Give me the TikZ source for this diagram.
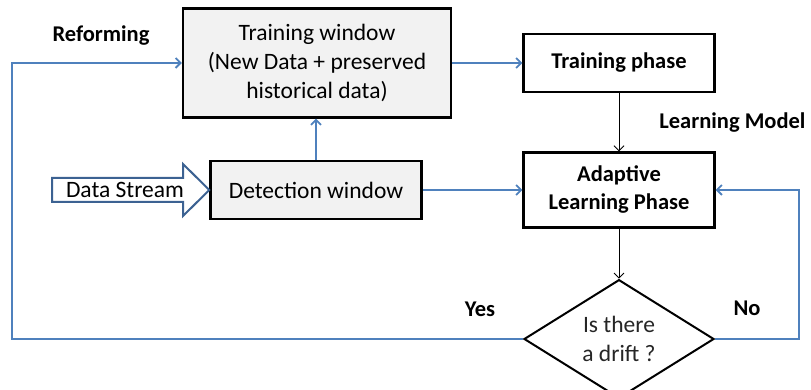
\documentclass[tikz,border=0pt]{standalone}
\usepackage{fontspec}
\setmainfont{Carlito}
\usetikzlibrary{shapes.geometric,arrows.meta}
\definecolor{flowblue}{RGB}{79,129,189}
\definecolor{streamblue}{RGB}{60,98,146}
\definecolor{boxgray}{RGB}{242,242,242}
\newcommand{\boxfont}{\fontsize{23.5}{29}\selectfont}
\newcommand{\tagfont}{\fontsize{22.5}{28}\selectfont\bfseries}

\begin{document}
\begin{tikzpicture}[
          x=1pt, y=1pt,
          window/.style={draw, line width=2.4pt, fill=boxgray, align=center, font=\boxfont},
          phase/.style={draw, line width=2.4pt, fill=white, align=center, font=\tagfont, minimum width=191pt},
          tag/.style={font=\tagfont},
          flow/.style={->, draw=flowblue, line width=1.8pt},
          pass/.style={->, line width=0.9pt},
          >={Straight Barb[length=5pt,width=10pt]},
          node distance=302pt,
          ]

          \useasboundingbox (0,0) rectangle (811,390);

          \node[window, minimum width=268pt, minimum height=109pt] (trainwin) at (317,327) {Training window\\(New Data + preserved\\historical data)};
          \node[phase, minimum height=58pt, right of=trainwin] (trainphase) {Training phase};

          \node[window, minimum width=211pt, minimum height=58pt] (detect) at (316,200) {Detection window};
          \node[phase, minimum height=75pt, right of=detect, node distance=303pt] (adaptive) {Adaptive\\Learning Phase};

          \node[diamond, draw, line width=2pt, fill=white, align=center, font=\boxfont, text=black!85,
                minimum width=190pt, minimum height=98pt, inner sep=0pt,
                below of=adaptive, node distance=149pt] (drift) {Is there\\a drift ?};

          \node[tag] (reform) at (101,354) {Reforming};
          \node[tag, anchor=east] (learnmodel) at (809,267) {Learning Model};
          \node[tag] (yes) at (480,81) {Yes};
          \node[tag] (no) at (747,82) {No};

          \coordinate (loopwest) at (12,0);
          \coordinate (loopeast) at (799,0);

          % incoming data stream
          \draw[streamblue, line width=2pt, fill=white] (52,188) -- (183,188) -- (183,174) -- (detect.west)
                -- (183,226) -- (183,212) -- (52,212) -- cycle;
          \node[font=\boxfont] (streamtxt) at (125,200) {Data Stream};

          \draw[flow] (trainwin) -- (trainphase);
          \draw[flow] (detect.north) -- (detect.north |- trainwin.south);
          \draw[flow] (detect) -- (adaptive);
          \draw[pass] (trainphase) -- (adaptive);
          \draw[pass] (adaptive) -- (drift);
          \draw[flow] (drift.west) -- (drift.west -| loopwest) |- (trainwin.west);
          \draw[flow] (drift.east) -- (drift.east -| loopeast) |- (adaptive.east);

        \end{tikzpicture}
\end{document}
